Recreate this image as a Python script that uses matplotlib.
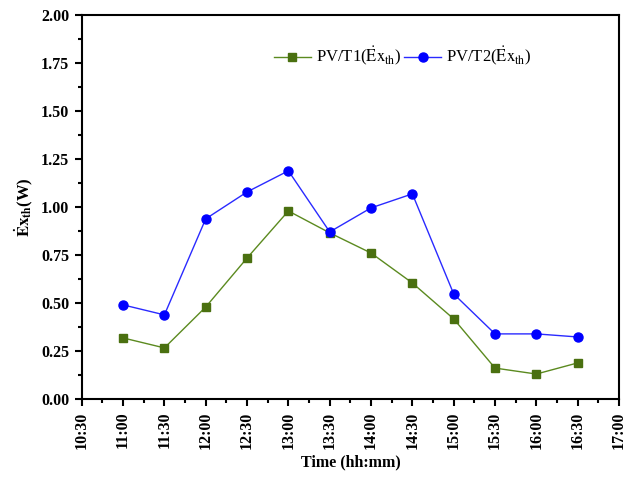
import matplotlib
matplotlib.use("Agg")
import matplotlib.pyplot as plt
from matplotlib.ticker import MultipleLocator, FormatStrFormatter

# Datos: exergía térmica de los colectores PV/T a lo largo del día
times = ["11:00", "11:30", "12:00", "12:30", "13:00", "13:30",
         "14:00", "14:30", "15:00", "15:30", "16:00", "16:30"]
pvt1_ex = [0.318, 0.266, 0.479, 0.734, 0.979, 0.865,
           0.760, 0.604, 0.417, 0.161, 0.130, 0.188]
pvt2_ex = [0.490, 0.438, 0.938, 1.078, 1.188, 0.870,
           0.995, 1.068, 0.547, 0.339, 0.339, 0.323]
tick_labels = ["10:30", "11:00", "11:30", "12:00", "12:30", "13:00", "13:30",
               "14:00", "14:30", "15:00", "15:30", "16:00", "16:30", "17:00"]


def to_hours(t):
    h, m = t.split(":")
    return int(h) + int(m) / 60


plt.rcParams["font.family"] = "Liberation Serif"
plt.rcParams["mathtext.fontset"] = "stix"

fig = plt.figure(figsize=(6.24, 4.79), dpi=100)
ax = fig.add_axes([0.131, 0.167, 0.861, 0.802])

x = [to_hours(t) for t in times]
ax.plot(x, pvt1_ex, color="#5b8a1f", lw=1.0, marker="s", ms=6.3,
        mfc="#4a7010", mec="#4a7010", label=r"PV/T1($\dot{\mathrm{E}}\mathrm{x}_{\mathrm{th}}$)")
ax.plot(x, pvt2_ex, color="#2a2aff", lw=1.0, marker="o", ms=6.5,
        mfc="#0000ff", mec="#0000ff", label=r"PV/T2($\dot{\mathrm{E}}\mathrm{x}_{\mathrm{th}}$)")

ax.set_xlim(10.5, 17.0)
ax.set_ylim(0, 2.0)
ax.set_xticks([to_hours(t) for t in tick_labels])
ax.set_xticklabels(tick_labels, rotation=90)
ax.xaxis.set_minor_locator(MultipleLocator(0.25))
ax.yaxis.set_major_locator(MultipleLocator(0.25))
ax.yaxis.set_minor_locator(MultipleLocator(0.125))
ax.yaxis.set_major_formatter(FormatStrFormatter("%.2f"))

for lab in ax.get_xticklabels() + ax.get_yticklabels():
    lab.set_fontweight("bold")
    lab.set_fontsize(11.5)

ax.tick_params(which="major", direction="out", length=5, width=1.5, pad=4)
ax.tick_params(which="minor", direction="out", length=3, width=1.5)
ax.tick_params(top=False, right=False)
for sp in ax.spines.values():
    sp.set_linewidth(1.5)

ax.set_xlabel("Time (hh:mm)", fontsize=11.5, fontweight="bold")
ax.set_ylabel(r"$\mathbf{\dot{E}x_{th}}$(W)", fontsize=12, fontweight="bold")

ax.legend(loc="upper left", bbox_to_anchor=(0.33, 0.96), ncol=2, frameon=False,
          fontsize=12, handlelength=2.2, columnspacing=0.2, handletextpad=0.3)

fig.savefig("out.png", dpi=100)
